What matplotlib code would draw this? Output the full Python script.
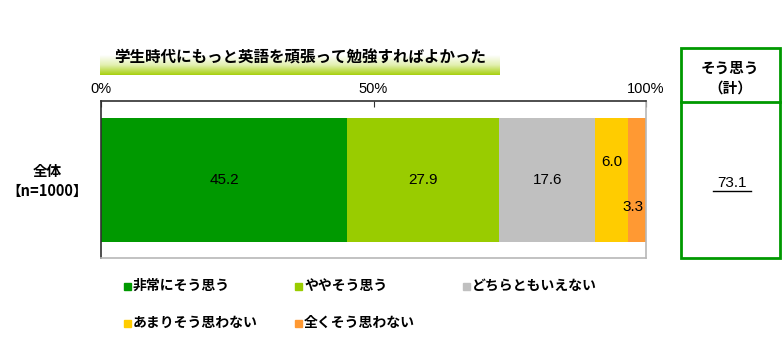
import numpy as np
import matplotlib.pyplot as plt
from matplotlib.patches import Rectangle
from matplotlib.colors import LinearSegmentedColormap

plt.rcParams['font.family'] = ['Noto Sans CJK JP', 'DejaVu Sans']

# ---------- data ----------
title = "学生時代にもっと英語を頑張って勉強すればよかった"
categories = ["非常にそう思う", "ややそう思う", "どちらともいえない", "あまりそう思わない", "全くそう思わない"]
values = [45.2, 27.9, 17.6, 6.0, 3.3]
colors = ["#009900", "#99cc00", "#c0c0c0", "#ffcc00", "#ff9933"]
row_label = "全体\n【n=1000】"
total_label = ["そう思う", "（計）"]
total_value = 73.1
xticks = [0, 50, 100]
xtick_labels = ["0%", "50%", "100%"]

W, H = 783, 340
fig = plt.figure(figsize=(W / 100, H / 100), dpi=100)


def fx(px):
    return px / W


def fy(py):
    return 1 - py / H


# ---------- main bar ----------
ax = fig.add_axes([fx(101), fy(258), fx(646) - fx(101), fy(101) - fy(258)])
left = 0
for v, c in zip(values, colors):
    ax.barh(0, v, left=left, height=1.0, color=c, edgecolor="none")
    left += v
ax.set_xlim(0, 100)
ax.set_ylim(-0.63, 0.64)

# data labels
lefts = np.cumsum([0] + values[:-1])
offsets = [0, 0, 0, 0.15, -0.22]
for i, (l, v) in enumerate(zip(lefts, values)):
    x = l + v / 2
    if i == len(values) - 1:
        x = l + v * 0.3
    ax.text(x, offsets[i], f"{v:.1f}", ha="center", va="center",
            fontsize=11, family=["Liberation Sans", "DejaVu Sans"])

for name, s in ax.spines.items():
    s.set_linewidth(1.2)
    s.set_color("#303030" if name in ("left", "top") else "#b8b8b8")
ax.xaxis.tick_top()
ax.set_xticks(xticks)
ax.set_xticklabels(xtick_labels, family=["Liberation Sans", "DejaVu Sans"], fontsize=10.5)
ax.tick_params(axis="x", direction="in", length=4, pad=3.5, color="#303030", colors="#000000")
ax.set_yticks([])

fig.text(fx(47), fy(181), row_label, ha="center", va="center",
         fontsize=10.5, fontweight="bold", linespacing=1.3)

# ---------- title banner ----------
bax = fig.add_axes([fx(100), fy(75), fx(500) - fx(100), fy(45) - fy(75)])
cmap = LinearSegmentedColormap.from_list("banner", ["#ffffff", "#ffffff", "#e2f0b0", "#a8d010"])
grad = np.linspace(0, 1, 64).reshape(-1, 1)
bax.imshow(grad, aspect="auto", cmap=cmap, extent=[0, 1, 1, 0])
bax.set_axis_off()
fig.text(fx(300), fy(58), title, ha="center", va="center",
         fontsize=11.2, fontweight="bold")

# ---------- right total box ----------
green = "#009900"
fig.patches.append(Rectangle((fx(681), fy(258)), fx(780) - fx(681), fy(48) - fy(258),
                             transform=fig.transFigure, fill=False,
                             edgecolor=green, linewidth=2))
fig.add_artist(plt.Line2D([fx(681), fx(780)], [fy(102), fy(102)],
                          transform=fig.transFigure, color=green, linewidth=2))
fig.text(fx(730), fy(68), total_label[0], ha="center", va="center", fontsize=10.5, fontweight="bold")
fig.text(fx(730), fy(88), total_label[1], ha="center", va="center", fontsize=10.5, fontweight="bold")
fig.text(fx(732), fy(183), f"{total_value:.1f}", ha="center", va="center",
         fontsize=11, family=["Liberation Sans", "DejaVu Sans"])
fig.add_artist(plt.Line2D([fx(713), fx(751)], [fy(191), fy(191)],
                          transform=fig.transFigure, color="black", linewidth=1))

# ---------- legend ----------
leg_pos = [(124, 286), (295, 286), (463, 286), (124, 323), (295, 323)]
for (lx, ly), name, c in zip(leg_pos, categories, colors):
    fig.patches.append(Rectangle((fx(lx), fy(ly + 4)), fx(7), 7 / H,
                                 transform=fig.transFigure, color=c))
    fig.text(fx(lx + 9), fy(ly), name, ha="left", va="center",
             fontsize=10, fontweight="bold")

fig.savefig("out.png", dpi=100)
